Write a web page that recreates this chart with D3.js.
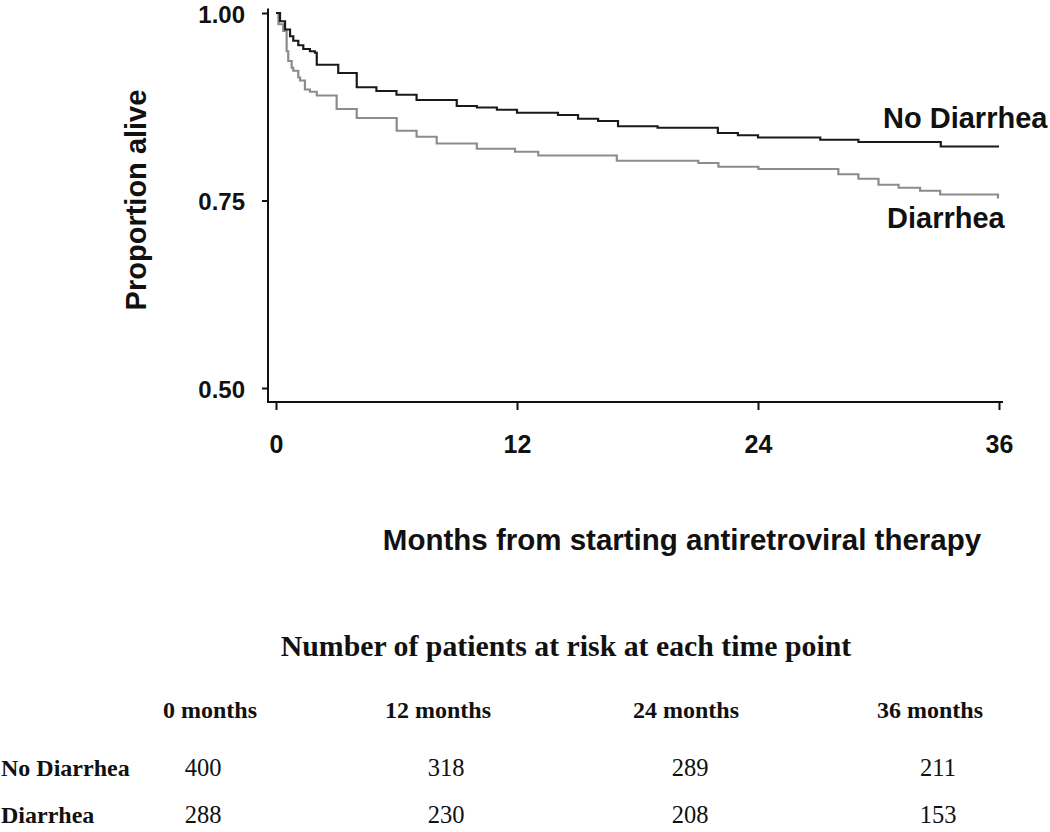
<!DOCTYPE html>
<html>
<head>
<meta charset="utf-8">
<script src="https://cdn.jsdelivr.net/npm/d3@7"></script>
<style>
  html, body { margin: 0; padding: 0; background: #fff; }
  svg { display: block; }
</style>
</head>
<body>
<svg id="chart" width="1050" height="832"></svg>
<script>
// ---- Data ----
const seriesNames = ["No Diarrhea", "Diarrhea"];
// step times (months) and survival after each drop
const noDiarrheaTime = [0, 0.2, 0.45, 0.7, 0.86, 1.11, 1.36, 1.69, 1.94, 2.03, 3.1, 4.02, 5.0, 6.0, 7.0, 9.0, 10.0, 11.0, 12.0, 14.04, 15.04, 16.04, 17.03, 19.0, 22.0, 23.0, 24.0, 27.1, 29.0, 33.1, 36.0];
const noDiarrheaSurv = [1.0, 0.989, 0.978, 0.969, 0.963, 0.957, 0.952, 0.949, 0.947, 0.931, 0.920, 0.901, 0.896, 0.891, 0.884, 0.876, 0.874, 0.871, 0.867, 0.864, 0.859, 0.856, 0.849, 0.847, 0.840, 0.837, 0.834, 0.831, 0.828, 0.822, 0.822];
const diarrheaTime = [0, 0.12, 0.36, 0.53, 0.61, 0.78, 0.86, 1.11, 1.2, 1.44, 1.69, 2.03, 3.02, 4.02, 6.01, 7.0, 8.0, 10.0, 11.9, 13.06, 16.97, 21.03, 22.03, 24.02, 28.0, 29.0, 30.0, 31.0, 32.07, 33.07, 35.95];
const diarrheaSurv = [1.0, 0.985, 0.976, 0.949, 0.936, 0.927, 0.923, 0.914, 0.910, 0.898, 0.895, 0.890, 0.872, 0.860, 0.843, 0.835, 0.826, 0.819, 0.815, 0.810, 0.803, 0.800, 0.795, 0.792, 0.785, 0.779, 0.771, 0.767, 0.763, 0.758, 0.754];

const xTicks = [0, 12, 24, 36];
const yTicks = [0.50, 0.75, 1.00];
const yTickLabels = ["0.50", "0.75", "1.00"];

const tableTitle = "Number of patients at risk at each time point";
const tableColumns = ["0 months", "12 months", "24 months", "36 months"];
const tableRows = ["No Diarrhea", "Diarrhea"];
const riskNoDiarrhea = [400, 318, 289, 211];
const riskDiarrhea = [288, 230, 208, 153];

const xTitle = "Months from starting antiretroviral therapy";
const yTitle = "Proportion alive";

// ---- Drawing ----
const svg = d3.select("#chart");
const sans = "'Liberation Sans', Arial, Helvetica, sans-serif";
const serif = "'Liberation Serif', 'Times New Roman', Times, serif";

const x = d3.scaleLinear().domain([0, 36]).range([276, 999]);
const y = d3.scaleLinear().domain([0.5, 1.0]).range([388, 13]);

// axis lines
svg.append("line")
  .attr("x1", 268).attr("x2", 268)
  .attr("y1", y(1.006)).attr("y2", 402)
  .attr("stroke", "#111").attr("stroke-width", 2);
svg.append("line")
  .attr("x1", 267).attr("x2", x(36.2))
  .attr("y1", 402).attr("y2", 402)
  .attr("stroke", "#111").attr("stroke-width", 2);

// y axis
const yAxis = d3.axisLeft(y).tickValues(yTicks)
  .tickFormat((d, i) => yTickLabels[i])
  .tickSize(6).tickPadding(17);
const gy = svg.append("g").attr("transform", "translate(268,0)").call(yAxis);
gy.select(".domain").remove();
gy.selectAll(".tick line").attr("stroke", "#111").attr("stroke-width", 2);
gy.selectAll(".tick text")
  .attr("font-family", sans).attr("font-size", 24).attr("font-weight", "bold")
  .attr("dy", "0.375em")
  .attr("fill", "#111");

// x axis
const xAxis = d3.axisBottom(x).tickValues(xTicks).tickSize(8).tickPadding(25);
const gx = svg.append("g").attr("transform", "translate(0,402)").call(xAxis);
gx.select(".domain").remove();
gx.selectAll(".tick line").attr("stroke", "#111").attr("stroke-width", 2);
gx.selectAll(".tick text")
  .attr("font-family", sans).attr("font-size", 25).attr("font-weight", "bold")
  .attr("fill", "#111");

// curves
const line = d3.line()
  .x(d => x(d[0])).y(d => y(d[1]))
  .curve(d3.curveStepAfter);

const seriesData = [
  { name: seriesNames[0], pts: noDiarrheaTime.map((t, i) => [t, noDiarrheaSurv[i]]), color: "#1a1a1a" },
  { name: seriesNames[1], pts: diarrheaTime.map((t, i) => [t, diarrheaSurv[i]]), color: "#8c8c8c" }
];
seriesData.forEach(s => {
  const last = s.pts[s.pts.length - 1];
  if (last[0] < 36) s.pts.push([36, last[1]]);
});

svg.selectAll("path.curve").data(seriesData.slice().reverse()).enter()
  .append("path").attr("class", "curve")
  .attr("d", d => line(d.pts))
  .attr("fill", "none")
  .attr("stroke", d => d.color)
  .attr("stroke-width", 2.2);

// curve labels
svg.append("text").text(seriesNames[0])
  .attr("x", 883).attr("y", 128)
  .attr("font-family", sans).attr("font-size", 29).attr("font-weight", "bold").attr("fill", "#111");
svg.append("text").text(seriesNames[1])
  .attr("x", 887).attr("y", 228)
  .attr("font-family", sans).attr("font-size", 29).attr("font-weight", "bold").attr("fill", "#111");

// axis titles
svg.append("text").text(xTitle)
  .attr("x", 682).attr("y", 550).attr("text-anchor", "middle")
  .attr("font-family", sans).attr("font-size", 29.5).attr("font-weight", "bold").attr("fill", "#111");
svg.append("text").text(yTitle)
  .attr("transform", "translate(146,200) rotate(-90)")
  .attr("text-anchor", "middle")
  .attr("font-family", sans).attr("font-size", 29).attr("font-weight", "bold").attr("fill", "#111");

// ---- risk table ----
const colHead = d3.scaleOrdinal().domain(tableColumns).range([210, 438, 686, 930]);
const colNum = d3.scaleOrdinal().domain(tableColumns).range([203, 446, 690, 938]);
svg.append("text").text(tableTitle)
  .attr("x", 566).attr("y", 656).attr("text-anchor", "middle")
  .attr("font-family", serif).attr("font-size", 29.8).attr("font-weight", "bold").attr("fill", "#111");

svg.selectAll("text.colhead").data(tableColumns).enter()
  .append("text").attr("class", "colhead")
  .text(d => d)
  .attr("x", d => colHead(d)).attr("y", 718).attr("text-anchor", "middle")
  .attr("font-family", serif).attr("font-size", 24).attr("font-weight", "bold").attr("fill", "#111");

const rowY = d3.scalePoint().domain(tableRows).range([776, 823]);
const riskRows = [riskNoDiarrhea, riskDiarrhea];
tableRows.forEach((r, ri) => {
  svg.append("text").text(r)
    .attr("x", 1).attr("y", rowY(r))
    .attr("font-family", serif).attr("font-size", 24).attr("font-weight", "bold").attr("fill", "#111");
  svg.selectAll("text.num" + ri).data(riskRows[ri]).enter()
    .append("text").attr("class", "num" + ri)
    .text(d => d)
    .attr("x", (d, i) => colNum(tableColumns[i]))
    .attr("y", rowY(r)).attr("text-anchor", "middle")
    .attr("font-family", serif).attr("font-size", 24.5).attr("fill", "#111");
});
</script>
</body>
</html>
